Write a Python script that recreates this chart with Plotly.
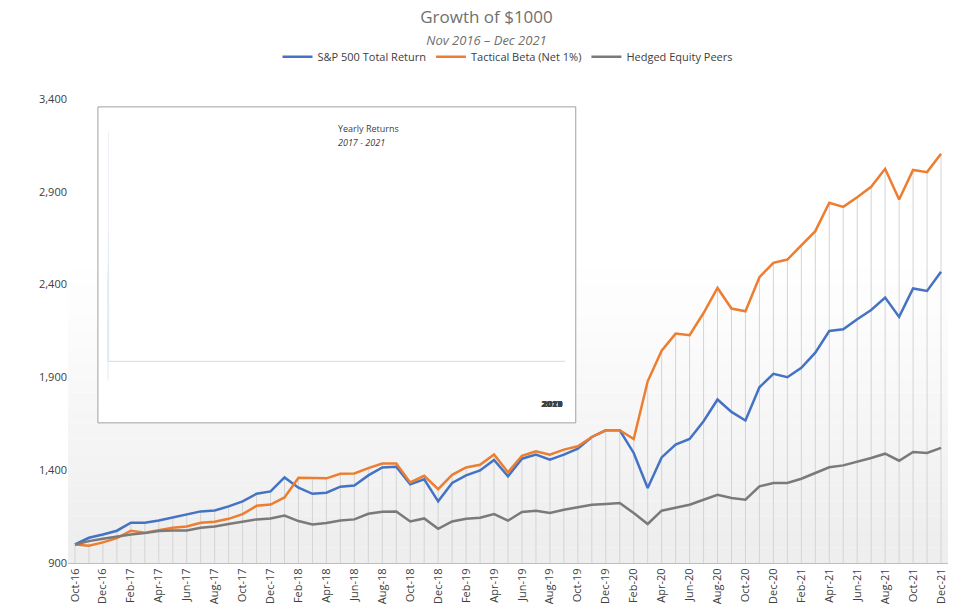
import pandas as pd
import plotly.graph_objects as go

# Monthly labels Oct-16 .. Dec-21
months = [d.strftime("%b-%y") for d in pd.date_range("2016-10-01", "2021-12-01", freq="MS")]

sp500 = [1000, 1036, 1054, 1074, 1117, 1117, 1129, 1145, 1160, 1178, 1183, 1205, 1232, 1273, 1286, 1361,
         1306, 1273, 1279, 1311, 1318, 1372, 1415, 1419, 1324, 1351, 1232, 1331, 1372, 1399, 1455, 1367,
         1462, 1484, 1457, 1484, 1516, 1579, 1615, 1615, 1493, 1304, 1469, 1538, 1568, 1664, 1781, 1714,
         1668, 1847, 1919, 1901, 1952, 2033, 2150, 2159, 2213, 2263, 2330, 2226, 2379, 2366, 2469]
tactical = [1000, 993, 1011, 1034, 1074, 1063, 1077, 1090, 1097, 1117, 1122, 1138, 1163, 1208, 1215, 1253,
            1359, 1356, 1356, 1381, 1382, 1411, 1436, 1436, 1334, 1370, 1298, 1375, 1415, 1429, 1485, 1389,
            1478, 1502, 1484, 1511, 1529, 1579, 1615, 1615, 1568, 1879, 2044, 2136, 2127, 2247, 2382, 2271,
            2256, 2440, 2517, 2535, 2611, 2688, 2841, 2819, 2871, 2927, 3024, 2859, 3018, 3006, 3105]
hedged = [1000, 1018, 1031, 1043, 1054, 1061, 1072, 1075, 1075, 1090, 1097, 1110, 1124, 1135, 1140, 1156,
          1126, 1108, 1115, 1129, 1135, 1165, 1176, 1178, 1124, 1140, 1084, 1124, 1138, 1144, 1164, 1128,
          1175, 1182, 1169, 1187, 1200, 1214, 1218, 1223, 1169, 1110, 1182, 1200, 1214, 1241, 1268, 1250,
          1241, 1313, 1331, 1331, 1354, 1385, 1416, 1426, 1444, 1466, 1489, 1451, 1498, 1493, 1520]

years = ["2017", "2018", "2019", "2020", "2021"]
sp_yr = [21.8, -4.4, 31.5, 18.4, 28.7]
tb_yr = [20.5, 6.7, 24.1, 56.4, 23.4]
he_yr = [10.6, -4.8, 12.3, 9.1, 14.3]

BLUE, ORANGE, GRAY, BARGRAY = "#4472C4", "#ED7D31", "#7A7A7A", "#A5A5A5"

fig = go.Figure()

# drop lines from top series down to axis
dx, dy = [], []
for m, a, b, c in zip(months, sp500, tactical, hedged):
    dx += [m, m, None]
    dy += [900, max(a, b, c), None]
fig.add_trace(go.Scatter(x=dx, y=dy, mode="lines", line=dict(color="#D4D4D4", width=1),
                         showlegend=False, hoverinfo="skip"))

fig.add_trace(go.Scatter(x=months, y=sp500, name="S&P 500 Total Return", mode="lines", line=dict(color=BLUE, width=2.5)))
fig.add_trace(go.Scatter(x=months, y=tactical, name="Tactical Beta (Net 1%)", mode="lines", line=dict(color=ORANGE, width=2.5)))
fig.add_trace(go.Scatter(x=months, y=hedged, name="Hedged Equity Peers", mode="lines", line=dict(color=GRAY, width=2.5)))

# inset bars
for vals, col, lab_col in [(sp_yr, BLUE, BLUE), (tb_yr, ORANGE, ORANGE), (he_yr, BARGRAY, "#404040")]:
    fig.add_trace(go.Bar(x=years, y=vals, marker_color=col, xaxis="x2", yaxis="y2", showlegend=False,
                         text=[f"{v:.1f}%" for v in vals], textposition="outside",
                         textfont=dict(size=8, color=lab_col), cliponaxis=False))

shapes = []
# background gradient bands
n = 30
for i in range(n):
    t = i / (n - 1)
    g = int(255 - 17 * max(0, 1 - t * 1.6))
    shapes.append(dict(type="rect", xref="paper", yref="paper", x0=0, x1=1, y0=i / n, y1=(i + 1) / n,
                       fillcolor=f"rgb({g},{g},{g})", line=dict(width=0), layer="below"))
# inset frame
shapes.append(dict(type="rect", xref="paper", yref="paper", x0=0.034, x1=0.577, y0=0.302, y1=0.983,
                   fillcolor="white", line=dict(color="#A0A0A0", width=1), layer="below"))
# inset zero line
shapes.append(dict(type="line", xref="x2 domain", yref="y2", x0=0, x1=1, y0=0, y1=0,
                   line=dict(color="#D9D9D9", width=1), layer="below"))

annotations = [
    dict(text="Yearly Returns", x=0.305, y=0.955, xref="paper", yref="paper", showarrow=False,
         font=dict(size=9, color="#404040")),
    dict(text="<i>2017 - 2021</i>", x=0.305, y=0.925, xref="paper", yref="paper", showarrow=False,
         font=dict(size=9, color="#404040")),
]
for yr in years:
    annotations.append(dict(text=f"<b>{yr}</b>", x=yr, y=0.325, xref="x2", yref="paper", showarrow=False,
                            font=dict(size=9, color="#404040")))

fig.update_layout(
    width=957, height=615,
    margin=dict(l=60, r=17, t=91, b=60),
    paper_bgcolor="white", plot_bgcolor="rgba(0,0,0,0)",
    font=dict(family="Open Sans", color="#404040"),
    title=dict(text="Growth of $1000<br><span style='font-size:13px'><i>Nov 2016 – Dec 2021</i></span>",
               x=0.5, y=0.975, xanchor="center", font=dict(size=17, color="#707070")),
    legend=dict(orientation="h", x=0.5, xanchor="center", y=1.06, yanchor="bottom", font=dict(size=11)),
    xaxis=dict(tickvals=months[::2], tickangle=-90, showgrid=False, showline=True, linecolor="#BFBFBF",
               tickfont=dict(size=11), range=[-0.5, len(months) - 0.5]),
    yaxis=dict(range=[900, 3400], tickvals=list(range(900, 3401, 500)), tickformat=",", showgrid=False,
               zeroline=False, tickfont=dict(size=11)),
    xaxis2=dict(domain=[0.045, 0.565], anchor="y2", showticklabels=False, showgrid=False, showline=False),
    yaxis2=dict(domain=[0.33, 0.95], anchor="x2", range=[-11.9, 58.6], visible=False, showgrid=False,
                zeroline=False),
    barmode="group", bargap=0.35, bargroupgap=0.08,
    shapes=shapes, annotations=annotations,
)

fig.write_html("out.html")
